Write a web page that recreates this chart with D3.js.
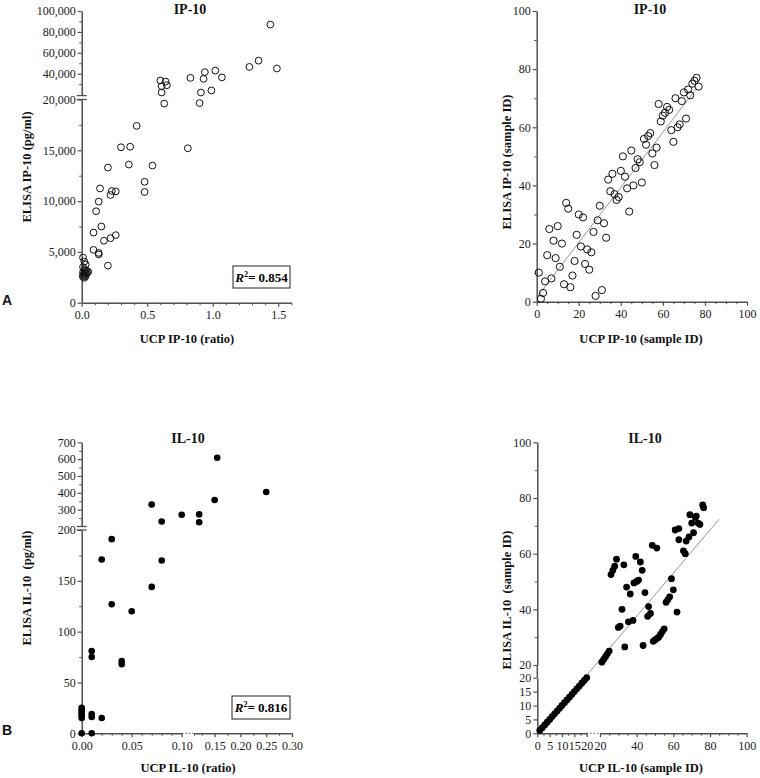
<!DOCTYPE html>
<html><head><meta charset="utf-8">
<script src="https://cdn.jsdelivr.net/npm/d3@7"></script>
<style>body{margin:0;background:#fff}svg{display:block}</style>
</head><body>
<svg id="c" width="760" height="778"></svg>
<script>
// ---------- Panel A (left): IP-10 ratio vs ELISA pg/ml ----------
const ipRatio = [1.44,1.35,1.49,1.28,1.02,0.94,1.07,0.93,0.83,0.99,0.91,0.90,0.60,0.64,0.61,0.65,0.61,0.63,0.42,0.30,0.37,0.81,0.20,0.36,0.54,0.48,0.48,0.14,0.23,0.26,0.22,0.13,0.11,0.15,0.09,0.26,0.22,0.17,0.09,0.13,0.13,0.20,
  0.01,0.02,0.03,0.01,0.02,0.03,0.04,0.01,0.02,0.03,0.01,0.02,0.04,0.03,0.01,0.02,0.05];
const ipElisa = [87000,52500,45000,46500,43000,41500,36500,35000,36000,24000,22000,19650,33500,32500,28000,29000,22000,19600,17400,15300,15350,15200,13300,13600,13500,11900,10900,11250,11000,10950,10600,9950,9000,7500,6900,6650,6350,6100,5200,4900,4750,3650,
  4450,4050,3750,3500,3300,3200,3100,3000,2950,2850,2750,2700,2900,2600,2550,2450,3050];
const ipXTicks = [0,0.5,1.0,1.5];
const ipYTicksLow = [0,5000,10000,15000,20000];
const ipYTicksHigh = [40000,60000,80000,100000];
const ipR2 = "0.854";

// ---------- Panel A (right): IP-10 sample ID ranks ----------
const ipRankX = [1,2,3,4,5,6,7,8,9,10,11,12,13,14,15,16,17,18,19,20,21,22,23,24,25,26,27,28,29,30,31,32,33,34,35,36,37,38,39,40,41,42,43,44,45,46,47,48,49,50,51,52,53,54,55,56,57,58,59,60,61,62,63,64,65,66,67,68,69,70,71,72,73,74,75,76,77];
const ipRankY = [10,1,3,7,16,25,8,21,15,26,12,20,6,34,32,5,9,14,23,30,19,29,13,18,11,17,24,2,28,33,4,27,22,42,38,44,37,35,36,45,50,43,39,31,52,40,46,49,48,41,56,54,57,58,51,47,53,68,62,64,65,67,66,59,55,70,60,61,69,72,63,73,71,75,76,77,74];
const ipFitX = [0.3,76];
const ipFitY = [1.7,73.4];
const rankTicks = [0,20,40,60,80,100];

// ---------- Panel B (left): IL-10 ratio vs ELISA pg/ml ----------
const ilRatio = [0.155,0.25,0.15,0.12,0.12,0.10,0.07,0.08,0.03,0.02,0.08,0.07,0.03,0.05,0.01,0.01,0.04,0.04,0,0,0,0,0,0,0.01,0.01,0.02,0,0.01];
const ilElisa = [608,405,357,272,225,270,330,230,191,171,170,144,127,120,81,75,71,68,25,23,21,19,17,15,19,16,15,0,0];
const ilXTicksLow = [0,0.05,0.10];
const ilXTicksHigh = [0.15,0.20,0.25,0.30];
const ilYTicksLow = [0,50,100,150,200];
const ilYTicksHigh = [300,400,500,600,700];
const ilR2 = "0.816";

// ---------- Panel B (right): IL-10 sample ID ranks ----------
const ilRankX = [1,2,3,4,5,6,7,8,9,10,11,12,13,14,15,16,17,18,19,20,
  21,22,23,24,25,26,27,28,29,33,39.5,42,43,34.5,36.5,38.5,40,41,32,30,31,35.5,38,33.5,43.5,44.5,46.5,46,47.5,
  49,50,51,52,53,54,55,56,57,58,60,59,62,48.5,51,
  61,63,63,65.5,66.5,67,68.5,71,69,70,72,72.5,73.5,74.5,76,76.5];
const ilRankY = [1,2,3,4,5,6,7,8,9,10,11,12,13,14,15,16,17,18,19,20,
  21,22,23,24,25,52.5,54,55.5,58,56,59,57,54,48,45.5,49.5,50,50.5,40,33.5,34,35.5,36,26.5,27,46,41,37.5,38.5,
  28.5,29,29.5,30,31,32,33,42.5,43.5,44.5,47,51,39,63,62,
  68.5,69,65,61,60,64.5,66,67.5,74,71,73,73.5,71,70.5,77.5,76.5];
const ilFitX = [0,85];
const ilFitY = [0,72.4];
const ilXTicksRankLow = [0,5,10,15,20];
const ilXTicksRankHigh = [20,40,60,80,100];
const ilYTicksRankLow = [0,5,10,15,20];
const ilYTicksRankHigh = [20,40,60,80,100];

// ---------- drawing ----------
const svg = d3.select("#c");
const SERIF = "'Liberation Serif','Times New Roman',serif";
const SANS = "'Liberation Sans',Arial,sans-serif";
const AX = "#505050";

function drawAxis(scale, orient, pos, major, minor, fmt) {
  const isY = orient === "left";
  const mk = isY ? d3.axisLeft : d3.axisBottom;
  const tr = isY ? `translate(${pos},0)` : `translate(0,${pos})`;
  const g = svg.append("g").attr("transform", tr)
    .call(mk(scale).tickValues(major).tickFormat(fmt).tickSize(4).tickSizeOuter(0).tickPadding(isY ? 2 : 4));
  g.select(".domain").attr("stroke", AX).attr("stroke-width", 1.5);
  g.selectAll(".tick line").attr("stroke", AX).attr("stroke-width", 1.2);
  g.selectAll(".tick text").attr("font-family", SERIF).attr("font-size", 12).attr("fill", "#1a1a1a");
  if (minor && minor.length) {
    const m = svg.append("g").attr("transform", tr)
      .call(mk(scale).tickValues(minor).tickFormat("").tickSize(2.5).tickSizeOuter(0));
    m.select(".domain").remove();
    m.selectAll(".tick line").attr("stroke", AX).attr("stroke-width", 1);
  }
  return g;
}
function text(x, y, s, opts = {}) {
  const t = svg.append("text").attr("x", x).attr("y", y).text(s)
    .attr("font-family", opts.family || SERIF).attr("font-size", opts.size || 13)
    .attr("font-weight", opts.weight || "bold").attr("text-anchor", opts.anchor || "middle")
    .attr("fill", "#111");
  if (opts.rotate) t.attr("transform", `rotate(-90,${x},${y})`);
  return t;
}
function breakMarks(x, ys) {
  ys.forEach(y => svg.append("line").attr("x1", x - 5).attr("x2", x + 5).attr("y1", y).attr("y2", y)
    .attr("stroke", AX).attr("stroke-width", 1.3));
}
function dottedX(x1, x2, y) {
  svg.append("line").attr("x1", x1).attr("x2", x2).attr("y1", y).attr("y2", y)
    .attr("stroke", AX).attr("stroke-width", 1).attr("stroke-dasharray", "1.5,2");
}
function r2Box(x, y, w, h, val) {
  svg.append("rect").attr("x", x).attr("y", y).attr("width", w).attr("height", h)
    .attr("fill", "#fff").attr("stroke", "#222").attr("stroke-width", 1);
  const t = svg.append("text").attr("x", x + w / 2).attr("y", y + h / 2 + 4.5)
    .attr("text-anchor", "middle").attr("font-family", SERIF).attr("font-size", 13).attr("font-weight", "bold");
  t.append("tspan").attr("font-style", "italic").text("R");
  t.append("tspan").attr("font-size", 8).attr("dy", -5).text("2");
  t.append("tspan").attr("dy", 5).text("= " + val);
}
const idx = a => a.map((_, i) => i);

// ===== Panel A left =====
{
  const x = d3.scaleLinear().domain([0, 1.6]).range([81.7, 291.3]);
  const yLo = d3.scaleLinear().domain([0, 20000]).range([302.7, 99.5]);
  const yHi = d3.scaleLinear().domain([20000, 100000]).range([94.6, 11]);
  const y = v => v <= 20000 ? yLo(v) : yHi(v);
  drawAxis(x, "bottom", yLo(0), ipXTicks, d3.range(0, 16).map(d => d / 10).filter(d => !ipXTicks.includes(d)).concat([1.6]), d3.format(".1f"));
  drawAxis(yLo, "left", x(0), ipYTicksLow, [2500,7500,12500,17500], d3.format(","));
  drawAxis(yHi, "left", x(0), ipYTicksHigh, [30000,50000,70000,90000], d3.format(","));
  breakMarks(x(0), [yHi(20000) + 1, yLo(20000)]);
  svg.append("g").selectAll("circle").data(idx(ipRatio)).join("circle")
    .attr("cx", i => x(ipRatio[i])).attr("cy", i => y(ipElisa[i])).attr("r", 3.4)
    .attr("fill", "none").attr("stroke", "#111").attr("stroke-width", 1);
  text(190, 14, "IP-10", { size: 14 });
  text(187, 343, "UCP IP-10 (ratio)", { size: 12.5 });
  text(31, 167, "ELISA IP-10 (pg/ml)", { size: 12.5, rotate: true });
  r2Box(233, 266, 57, 22, ipR2);
  text(2, 305, "A", { family: SANS, size: 14, anchor: "start" });
}

// ===== Panel A right =====
{
  const x = d3.scaleLinear().domain([0, 100]).range([536.7, 747]);
  const y = d3.scaleLinear().domain([0, 100]).range([301.7, 11]);
  drawAxis(x, "bottom", y(0), rankTicks, d3.range(5, 100, 5).filter(d => d % 20), d3.format("d"));
  drawAxis(y, "left", x(0), rankTicks, [10,30,50,70,90], d3.format("d"));
  svg.append("line").attr("x1", x(ipFitX[0])).attr("y1", y(ipFitY[0])).attr("x2", x(ipFitX[1])).attr("y2", y(ipFitY[1]))
    .attr("stroke", "#8a8a8a").attr("stroke-width", 0.9);
  svg.append("g").selectAll("circle").data(idx(ipRankX)).join("circle")
    .attr("cx", i => x(ipRankX[i])).attr("cy", i => y(ipRankY[i])).attr("r", 3.6)
    .attr("fill", "none").attr("stroke", "#111").attr("stroke-width", 1);
  text(650, 14, "IP-10", { size: 14 });
  text(641, 343, "UCP IP-10 (sample ID)", { size: 12.5 });
  text(511, 162, "ELISA IP-10 (sample ID)", { size: 12.5, rotate: true });
}

// ===== Panel B left =====
{
  const xLo = d3.scaleLinear().domain([0, 0.10]).range([81.7, 181.7]);
  const xHi = d3.scaleLinear().domain([0.11, 0.30]).range([194, 292]);
  const x = v => v <= 0.105 ? xLo(v) : xHi(v);
  const yLo = d3.scaleLinear().domain([0, 200]).range([733.3, 530]);
  const yHi = d3.scaleLinear().domain([200, 700]).range([526.5, 442.3]);
  const y = v => v <= 200 ? yLo(v) : yHi(v);
  drawAxis(xLo, "bottom", yLo(0), ilXTicksLow, [0.01,0.02,0.03,0.04,0.06,0.07,0.08,0.09], d3.format(".2f"));
  drawAxis(xHi, "bottom", yLo(0), ilXTicksHigh, [0.11,0.125,0.175,0.225,0.275], d3.format(".2f"));
  dottedX(xLo(0.10), xHi(0.11), yLo(0));
  drawAxis(yLo, "left", xLo(0), ilYTicksLow, [25,75,125,175], d3.format("d"));
  drawAxis(yHi, "left", xLo(0), ilYTicksHigh, [250,350,450,550,650], d3.format("d"));
  breakMarks(xLo(0), [yHi(200), yLo(200)]);
  svg.append("g").selectAll("circle").data(idx(ilRatio)).join("circle")
    .attr("cx", i => x(ilRatio[i])).attr("cy", i => y(ilElisa[i])).attr("r", 3.3)
    .attr("fill", "#000");
  text(188, 443, "IL-10", { size: 14 });
  text(188, 772, "UCP IL-10 (ratio)", { size: 12.5 });
  text(31, 588, "ELISA IL-10\u00a0\u00a0(pg/ml)", { size: 12.5, rotate: true });
  r2Box(232, 696, 58, 23, ilR2);
  text(2, 735, "B", { family: SANS, size: 14, anchor: "start" });
}

// ===== Panel B right =====
{
  const xLo = d3.scaleLinear().domain([0, 20]).range([537.3, 586.7]);
  const xHi = d3.scaleLinear().domain([20, 100]).range([600, 746.7]);
  const x = v => v <= 20 ? xLo(v) : xHi(v);
  const yLo = d3.scaleLinear().domain([0, 20]).range([733.3, 677.7]);
  const yHi = d3.scaleLinear().domain([20, 100]).range([665, 442.3]);
  const y = v => v <= 20 ? yLo(v) : yHi(v);
  drawAxis(xLo, "bottom", yLo(0), ilXTicksRankLow, [2.5,7.5,12.5,17.5], d3.format("d"));
  drawAxis(xHi, "bottom", yLo(0), ilXTicksRankHigh, d3.range(25, 100, 5).filter(d => d % 20), d3.format("d"));
  dottedX(xLo(20), xHi(20), yLo(0));
  drawAxis(yLo, "left", xLo(0), ilYTicksRankLow, [], d3.format("d"));
  drawAxis(yHi, "left", xLo(0), ilYTicksRankHigh, [30,50,70,90], d3.format("d"));
  svg.append("line").attr("x1", xLo(0)).attr("x2", xLo(0)).attr("y1", yHi(20)).attr("y2", yLo(20))
    .attr("stroke", AX).attr("stroke-width", 1.5);
  svg.append("line").attr("x1", x(ilFitX[0])).attr("y1", y(ilFitY[0])).attr("x2", x(ilFitX[1])).attr("y2", y(ilFitY[1]))
    .attr("stroke", "#8a8a8a").attr("stroke-width", 0.9);
  svg.append("g").selectAll("circle").data(idx(ilRankX)).join("circle")
    .attr("cx", i => x(ilRankX[i])).attr("cy", i => y(ilRankY[i])).attr("r", 3.4)
    .attr("fill", "#000");
  text(645, 443, "IL-10", { size: 14 });
  text(641, 772, "UCP IL-10 (sample ID)", { size: 12.5 });
  text(511, 600, "ELISA IL-10\u00a0\u00a0(sample ID)", { size: 12.5, rotate: true });
}
</script>
</body></html>
